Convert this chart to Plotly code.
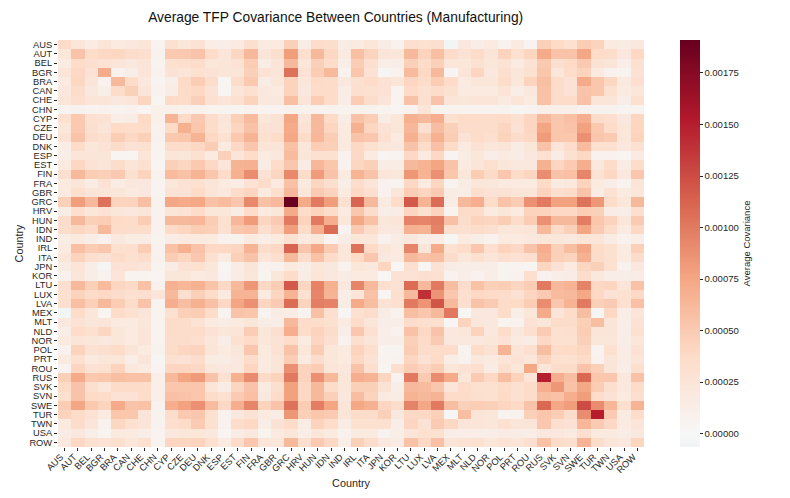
import plotly.graph_objects as go

countries = ["AUS","AUT","BEL","BGR","BRA","CAN","CHE","CHN","CYP","CZE","DEU","DNK","ESP","EST","FIN","FRA","GBR","GRC","HRV","HUN","IDN","IND","IRL","ITA","JPN","KOR","LTU","LUX","LVA","MEX","MLT","NLD","NOR","POL","PRT","ROU","RUS","SVK","SVN","SWE","TUR","TWN","USA","ROW"]

# Upper triangle of the symmetric matrix, in units of 1e-5; each row starts at its diagonal.
upper = [
[37,23,16,25,18,20,25,5,30,23,28,14,13,18,33,18,18,46,15,35,34,15,18,23,15,8,33,30,33,-5,20,13,18,8,18,5,46,38,30,48,44,18,15,20],
[55,37,40,41,35,33,7,51,51,55,37,25,41,62,25,33,80,33,62,41,18,58,44,25,23,62,44,58,37,28,37,25,44,30,42,72,55,55,75,37,35,20,40],
[33,28,25,20,25,6,30,33,35,23,25,28,48,15,25,62,23,46,37,13,48,33,13,13,46,37,46,23,23,30,23,28,18,28,51,33,38,51,28,25,13,30],
[72,8,13,25,8,28,25,31,28,25,25,46,28,25,105,28,48,62,8,53,28,3,8,61,40,62,4,25,42,20,33,23,30,53,23,37,44,18,8,6,28],
[62,37,20,5,13,38,48,35,4,35,51,15,23,44,23,38,35,20,30,37,28,25,42,35,48,37,18,23,23,37,23,44,58,37,28,72,53,41,19,33],
[46,25,8,15,37,40,28,4,25,31,20,18,44,20,37,35,15,33,30,28,6,38,30,35,30,18,18,18,25,13,20,56,37,28,55,53,30,18,23],
[42,4,38,37,46,30,25,30,44,20,20,58,25,48,37,15,48,35,25,6,56,33,55,25,23,25,25,18,25,18,56,37,37,56,25,25,13,30],
[10,10,8,8,6,6,4,8,5,5,8,8,8,7,6,8,7,6,4,8,24,6,6,6,6,6,7,3,5,12,12,11,8,7,7,5,6],
[65,38,51,35,25,46,61,23,28,75,25,62,38,15,56,48,15,23,68,62,70,30,37,37,35,37,30,42,62,52,57,70,35,33,20,42],
[68,53,37,23,42,56,28,28,72,28,62,42,18,68,42,28,23,64,33,59,46,35,35,35,42,28,42,76,53,55,78,51,37,23,42],
[66,40,30,51,66,30,37,74,37,64,48,18,55,52,30,18,68,46,68,48,28,37,33,44,35,40,82,53,53,88,52,50,23,44],
[48,18,40,52,25,25,56,23,48,46,18,40,30,23,20,55,37,57,37,18,28,23,25,15,23,55,25,35,61,30,30,20,30],
[46,25,37,18,20,61,23,30,30,8,40,18,4,5,40,18,40,5,15,23,13,18,15,20,30,15,30,40,8,8,4,18],
[66,68,15,37,52,15,64,53,8,42,46,15,15,62,66,76,55,18,25,30,23,20,20,68,42,50,70,20,37,15,37],
[90,28,42,92,37,82,55,18,66,55,25,23,84,66,88,53,23,48,38,52,37,42,90,55,57,94,28,40,20,52],
[37,18,56,18,42,33,13,35,25,8,6,40,18,42,6,15,23,23,18,18,18,38,18,20,44,18,13,6,25],
[33,62,23,50,44,18,40,33,8,23,48,42,50,15,13,33,28,28,25,25,44,33,37,55,15,28,18,23],
[190,72,100,80,30,112,62,18,37,118,66,108,15,62,70,37,55,48,88,100,78,78,104,84,37,23,62],
[37,44,37,18,53,35,13,15,42,30,44,6,37,37,18,23,18,44,44,40,40,48,46,15,13,33],
[100,70,23,74,56,23,25,96,94,98,57,35,44,42,48,35,48,88,62,62,98,53,44,23,50],
[108,5,50,37,20,20,68,66,96,33,30,35,33,23,23,25,62,37,46,76,50,37,18,40],
[15,23,23,8,15,20,13,15,3,18,13,8,18,18,20,23,23,20,25,25,15,8,13],
[104,38,23,18,94,25,72,30,37,52,33,44,40,55,70,46,59,74,37,30,18,46],
[52,20,18,62,56,59,35,23,30,25,33,28,33,66,46,44,68,35,30,18,35],
[42,2,33,4,28,15,13,13,13,6,6,4,42,28,18,42,46,30,8,20],
[28,28,33,30,8,13,8,13,6,8,33,8,13,15,35,20,13,13,15],
[108,62,100,59,35,56,46,48,42,48,100,62,66,95,40,42,25,56],
[140,86,52,33,40,38,35,28,42,50,61,62,74,40,28,30,40],
[120,62,33,55,50,37,38,48,90,52,66,100,46,50,30,57],
[102,2,20,20,37,13,23,72,25,37,59,3,40,13,25],
[44,23,20,6,8,28,23,37,35,46,59,25,13,28],
[44,20,37,20,33,50,30,33,48,25,25,13,30],
[23,28,18,15,40,30,30,46,23,23,13,23],
[66,25,33,59,37,38,42,5,30,15,28],
[28,23,44,30,30,38,8,25,15,25],
[74,25,35,35,55,46,25,13,33],
[150,70,59,110,53,52,20,56],
[84,56,74,48,33,20,37],
[70,80,35,28,18,33],
[125,90,64,33,66],
[150,50,18,35],
[40,18,25],
[15,20],
[42],
]

n = len(countries)
matrix = [[None] * n for _ in range(n)]
for i, row in enumerate(upper):
    for k, v in enumerate(row):
        if i + k < n:
            matrix[i][i + k] = v * 1e-5
            matrix[i + k][i] = v * 1e-5

zmin, zmax = -0.000065, 0.00191
anchor_values = [zmin, 0.0, 0.2 * zmax, 0.4 * zmax, 0.6 * zmax, 0.8 * zmax, zmax]
anchor_colors = ["#f0f4f6", "#f7f7f7", "#fddbc7", "#f4a582", "#d6604d", "#b2182b", "#67001f"]
colorscale = [[(v - zmin) / (zmax - zmin), c] for v, c in zip(anchor_values, anchor_colors)]

FONT = "Liberation Sans, Arial, sans-serif"
INK = "#262626"

fig = go.Figure(go.Heatmap(
    z=matrix, x=countries, y=countries, zmin=zmin, zmax=zmax, colorscale=colorscale,
    colorbar=dict(
        thickness=20, thicknessmode="pixels", len=1, lenmode="fraction",
        x=1.061, xanchor="left", xpad=0, y=0.5, yanchor="middle", ypad=0,
        tick0=0, dtick=0.00025, tickformat=".5f", ticks="outside", ticklen=3, tickwidth=1,
        tickcolor=INK, outlinewidth=0, tickfont=dict(family=FONT, size=9.5, color=INK),
        title=dict(text="Average Covariance", side="right", font=dict(family=FONT, size=9.5, color=INK)),
    ),
))
fig.update_layout(
    width=782, height=490, autosize=False, paper_bgcolor="white", plot_bgcolor="white",
    margin=dict(l=50, r=146, t=32, b=51, pad=0),
    title=dict(text="Average TFP Covariance Between Countries (Manufacturing)", x=0.419, xanchor="center",
               y=0.982, yanchor="middle", font=dict(family=FONT, size=13.8, color="#111111")),
    font=dict(family=FONT, color=INK),
    xaxis=dict(type="category", automargin=False, tickangle=-45, ticks="outside", ticklen=3, tickwidth=1, tickcolor=INK,
               ticklabelshift=-4, ticklabelstandoff=-3,
               tickfont=dict(size=9.3, color=INK), tickmode="array", tickvals=countries, ticktext=countries,
               title=dict(text="Country", font=dict(size=10.8, color=INK), standoff=5), showgrid=False, zeroline=False),
    yaxis=dict(type="category", automargin=False, autorange="reversed", ticks="outside", ticklen=3, tickwidth=1, tickcolor=INK,
               tickfont=dict(size=9.3, color=INK), tickmode="array", tickvals=countries, ticktext=countries,
               title=dict(text="Country", font=dict(size=10.8, color=INK), standoff=3), showgrid=False, zeroline=False),
)
fig.write_html("out.html")
